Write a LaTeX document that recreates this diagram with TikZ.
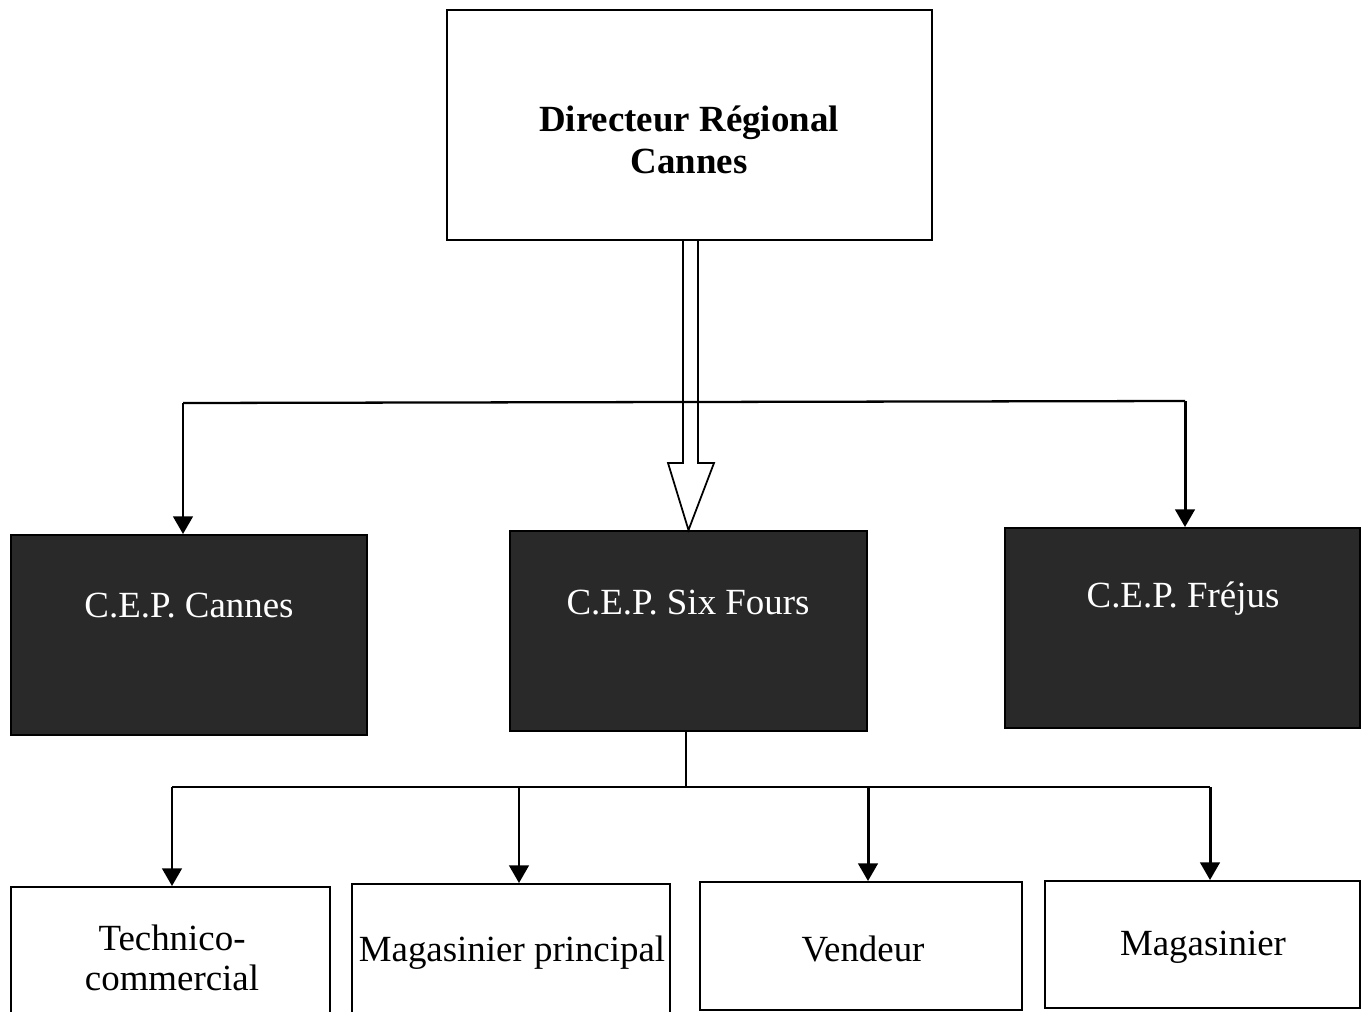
\documentclass[tikz,border=0pt]{standalone}
\usepackage{fontspec}
\setmainfont{Liberation Serif}
\usetikzlibrary{arrows.meta,calc}
\definecolor{CepDark}{gray}{0.16}

\begin{document}
\begin{tikzpicture}[x=0.02cm,y=-0.02cm,
  box/.style={draw,line width=1.1pt,inner sep=0pt},
  cep/.style={box,fill=CepDark},
  txt/.style={font=\fontsize{21}{23}\selectfont,align=center,inner sep=0pt},
  link/.style={line width=1.3pt},
  down/.style={line width=1.7pt,-{Triangle[width=11pt,length=10pt]}}]
\useasboundingbox (0,0) rectangle (1366,1011);

% boxes
\node[box,minimum width=9.7cm,minimum height=4.6cm] (dir) at (689.5,125) {};
\node[cep,minimum width=7.12cm,minimum height=4cm] (cannes) at (189,635) {};
\node[cep,minimum width=7.14cm,minimum height=4cm] (six) at (688.5,631) {};
\node[cep,minimum width=7.1cm,minimum height=4cm] (frejus) at (1182.5,628) {};
\node[box,minimum width=6.38cm,minimum height=2.56cm] (tech) at (170.5,951) {};
\node[box,minimum width=6.36cm,minimum height=2.62cm] (magp) at (511,949.5) {};
\node[box,minimum width=6.44cm,minimum height=2.56cm] (vend) at (861,946) {};
\node[box,minimum width=6.3cm,minimum height=2.54cm] (mag) at (1202.5,944.5) {};

% texts
\node[txt,font=\fontsize{21}{24}\selectfont\bfseries] (tdir) at (689,140) {Directeur Régional\\Cannes};
\node[txt,white] (tcannes) at (189,606) {C.E.P. Cannes};
\node[txt,white] (tsix) at (688,603) {C.E.P. Six Fours};
\node[txt,white] (tfrejus) at (1183,599) {C.E.P. Fréjus};
\node[txt] (ttech) at (172,958) {Technico-\\commercial};
\node[txt] (tmagp) at (512,953) {Magasinier principal};
\node[txt] (tvend) at (863,949) {Vendeur};
\node[txt] (tmag) at (1203,947) {Magasinier};

% hollow arrow
\coordinate (tip) at (six.north);
\draw[line width=1pt] (dir.south -| 683,0) -- (683,463) -- (668,463) -- (tip)
  -- (714,463) -- (698,463) -- (dir.south -| 698,0);

% upper branch
\coordinate (busL) at (183,403);
\coordinate (busR) at (1185,401);
\draw[link] (busL) -- (busR);
\draw[down] (busL) -- (busL |- cannes.north);
\draw[down] (busR) -- (busR |- frejus.north);

% lower branch
\coordinate (split) at (686,787);
\draw[link] (split |- six.south) -- (split);
\draw[link] (172,787) -- (1210,787);
\foreach \xx/\target in {172/tech,519/magp,868/vend,1210/mag}
  \draw[down] (\xx,787) -- ({\xx},787 |- \target.north);

\end{tikzpicture}
\end{document}
